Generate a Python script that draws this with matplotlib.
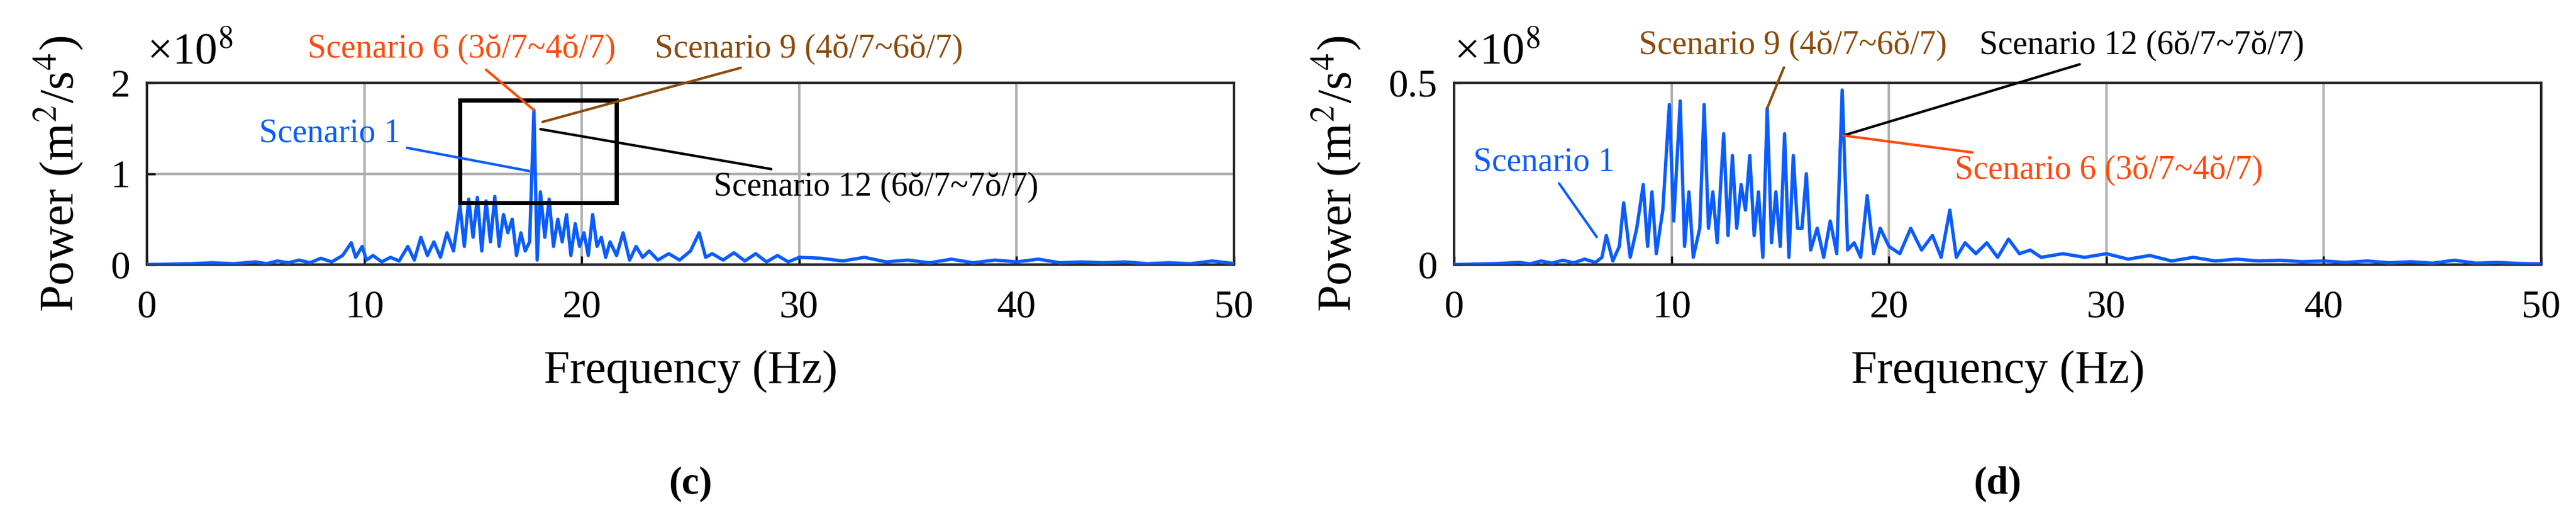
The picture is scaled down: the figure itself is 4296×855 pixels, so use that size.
import matplotlib
matplotlib.use("Agg")
import matplotlib.pyplot as plt
from matplotlib.patches import Rectangle

# ---- data (power in units of 1e8 m^2/s^4) ----
freq_c = [0, 2, 3, 4, 5, 5.5, 6, 6.5, 7, 7.5, 8, 8.5, 9, 9.4, 9.6, 9.9, 10.1, 10.4, 10.8, 11.2, 11.6, 12, 12.3, 12.6,
          12.9, 13.2, 13.5, 13.8, 14.1, 14.4, 14.6, 14.8, 15.0, 15.2, 15.4, 15.6, 15.8, 16.0, 16.2, 16.4, 16.6,
          16.8, 17.0, 17.2, 17.4, 17.6, 17.8, 17.95, 18.1, 18.3, 18.5, 18.7, 18.9, 19.1, 19.3, 19.5, 19.7, 19.9,
          20.1, 20.3, 20.5, 20.7, 20.9, 21.1, 21.3, 21.6, 21.9, 22.2, 22.5, 22.8, 23.1, 23.5, 24, 24.5, 25, 25.4,
          25.7, 26, 26.5, 27, 27.5, 28, 28.5, 29, 29.5, 30, 31, 32, 33, 34, 35, 36, 37, 38, 39, 40, 41, 42, 43,
          44, 45, 46, 47, 48, 49, 49.7, 50]
pow_c = [0, 0.01, 0.02, 0.01, 0.03, 0.01, 0.04, 0.02, 0.05, 0.02, 0.07, 0.03, 0.1, 0.24, 0.08, 0.2, 0.05, 0.1, 0.03,
         0.08, 0.04, 0.2, 0.05, 0.3, 0.1, 0.25, 0.08, 0.35, 0.15, 0.65, 0.2, 0.72, 0.3, 0.74, 0.15, 0.7, 0.25,
         0.75, 0.2, 0.55, 0.35, 0.5, 0.1, 0.35, 0.15, 0.25, 1.7, 0.05, 0.8, 0.3, 0.72, 0.2, 0.5, 0.25, 0.55, 0.1,
         0.45, 0.2, 0.35, 0.1, 0.55, 0.2, 0.3, 0.08, 0.25, 0.1, 0.35, 0.05, 0.2, 0.08, 0.15, 0.05, 0.12, 0.05,
         0.15, 0.35, 0.08, 0.12, 0.05, 0.13, 0.04, 0.12, 0.03, 0.1, 0.03, 0.08, 0.07, 0.04, 0.08, 0.03, 0.05, 0.02,
         0.06, 0.02, 0.05, 0.03, 0.06, 0.02, 0.03, 0.02, 0.03, 0.01, 0.02, 0.01, 0.04, 0.02, 0.01]

freq_d = [0, 2, 3, 3.5, 4, 4.5, 5, 5.5, 6, 6.5, 6.8, 7.0, 7.3, 7.6, 7.8, 8.1, 8.4, 8.7, 8.9, 9.1, 9.3, 9.6, 9.9,
          10.1, 10.4, 10.6, 10.8, 11.0, 11.3, 11.5, 11.7, 11.9, 12.1, 12.4, 12.6, 12.8, 13.0, 13.2, 13.4, 13.6,
          13.8, 14.0, 14.2, 14.4, 14.6, 14.8, 15.0, 15.2, 15.4, 15.6, 15.8, 16.0, 16.2, 16.4, 16.7, 17.0, 17.3,
          17.6, 17.85, 18.1, 18.4, 18.7, 19.0, 19.3, 19.6, 20.0, 20.5, 21.0, 21.5, 22.0, 22.4, 22.8, 23.1, 23.5,
          24, 24.5, 25, 25.5, 26, 26.5, 27, 28, 29, 30, 31, 32, 33, 34, 35, 36, 37, 38, 39, 40, 41, 42, 43, 44,
          45, 46, 47, 48, 49, 50]
pow_d = [0, 0.003, 0.006, 0.002, 0.01, 0.004, 0.012, 0.005, 0.015, 0.006, 0.02, 0.08, 0.01, 0.05, 0.17, 0.02, 0.1,
         0.22, 0.05, 0.2, 0.03, 0.15, 0.44, 0.12, 0.45, 0.05, 0.2, 0.02, 0.1, 0.44, 0.1, 0.2, 0.06, 0.36, 0.08,
         0.3, 0.1, 0.22, 0.15, 0.3, 0.08, 0.2, 0.02, 0.43, 0.06, 0.2, 0.05, 0.36, 0.02, 0.3, 0.1, 0.1, 0.25, 0.04,
         0.1, 0.02, 0.12, 0.03, 0.48, 0.04, 0.06, 0.02, 0.19, 0.03, 0.1, 0.05, 0.03, 0.1, 0.04, 0.08, 0.02, 0.15,
         0.02, 0.06, 0.03, 0.06, 0.02, 0.07, 0.03, 0.04, 0.02, 0.03, 0.02, 0.03, 0.015, 0.025, 0.01, 0.02, 0.01,
         0.015, 0.01, 0.012, 0.008, 0.01, 0.006, 0.01, 0.005, 0.008, 0.004, 0.012, 0.004, 0.006, 0.003, 0.002]

xticks = [0, 10, 20, 30, 40, 50]
yticks_c = [0, 1, 2]
yticks_d = [0, 0.5]

W, H = 4296, 855
FAM = ['Liberation Serif', 'DejaVu Serif']
plt.rcParams['font.family'] = FAM
plt.rcParams['mathtext.fontset'] = 'stix'
fig = plt.figure(figsize=(W / 100, H / 100), dpi=100)

BLUE = '#0a5cff'
ORANGE = '#ff4a0a'
BROWN = '#8b4a0a'
FS = 47
AFS = 40
TOP, BOT = 138, 441

def make_ax(left, right, ylim, yticks, freq, pw, label):
    ax = fig.add_axes([left / W, 1 - BOT / H, (right - left) / W, (BOT - TOP) / H])
    ax.plot(freq, pw, color=BLUE, lw=4, zorder=3)
    ax.set_xlim(0, 50)
    ax.set_ylim(*ylim)
    ax.set_xticks(xticks)
    ax.set_yticks(yticks)
    ax.set_yticklabels([('%g' % v) for v in yticks])
    ax.grid(True, color='#b0b0b0', lw=3)
    ax.tick_params(labelsize=FS, width=2.5, length=10, direction='in')
    ax.tick_params(axis='x', pad=30)
    ax.tick_params(axis='y', pad=20)
    for s in ax.spines.values():
        s.set_linewidth(3)
        s.set_color('#262626')
    ax.set_xlabel('Frequency (Hz)', fontsize=56, labelpad=30, family=FAM)
    ax.set_ylabel('Power (m$^2$/s$^4$)', fontsize=58, labelpad=30, family=FAM)
    ax.text(0.0, 1.05, '×10$^8$', transform=ax.transAxes, fontsize=54, va='bottom', ha='left', family=FAM)
    fig.text(((left + right) / 2) / W, 1 - 807 / H, label, fontsize=FS, ha='center', va='center',
             weight='bold', family=FAM)
    return ax

axc = make_ax(245, 2058, (0, 2), yticks_c, freq_c, pow_c, '(c)')
axc.add_patch(Rectangle((14.4, 0.68), 7.2, 1.13, fill=False, ec='black', lw=5, zorder=4))

def ann(ax, txt, xy, tpix, color, ha='center'):
    ax.annotate(txt, xy=xy, xycoords='data', xytext=(tpix[0], H - tpix[1]), textcoords='figure pixels',
                fontsize=AFS, color=color, ha=ha, va='center', family=FAM,
                arrowprops=dict(arrowstyle='-', color=color, lw=3, shrinkA=6, shrinkB=0), zorder=5,
                annotation_clip=False)

ann(axc, 'Scenario 6 (3ŏ/7~4ŏ/7)', (17.8, 1.7), (770, 82), ORANGE)
ann(axc, 'Scenario 9 (4ŏ/7~6ŏ/7)', (18.2, 1.57), (1349, 82), BROWN)
ann(axc, 'Scenario 1', (17.57, 1.03), (550, 222), BLUE)
ann(axc, 'Scenario 12 (6ŏ/7~7ŏ/7)', (18.1, 1.49), (1190, 312), 'black', ha='left')

axd = make_ax(2425, 4238, (0, 0.5), yticks_d, freq_d, pow_d, '(d)')
ann(axd, 'Scenario 9 (4ŏ/7~6ŏ/7)', (14.4, 0.43), (2990, 76), BROWN)
ann(axd, 'Scenario 12 (6ŏ/7~7ŏ/7)', (17.9, 0.355), (3301, 76), 'black', ha='left')
ann(axd, 'Scenario 6 (3ŏ/7~4ŏ/7)', (17.9, 0.355), (3260, 284), ORANGE, ha='left')
ann(axd, 'Scenario 1', (6.56, 0.076), (2457, 270), BLUE, ha='left')

fig.savefig('out.png', dpi=100)
